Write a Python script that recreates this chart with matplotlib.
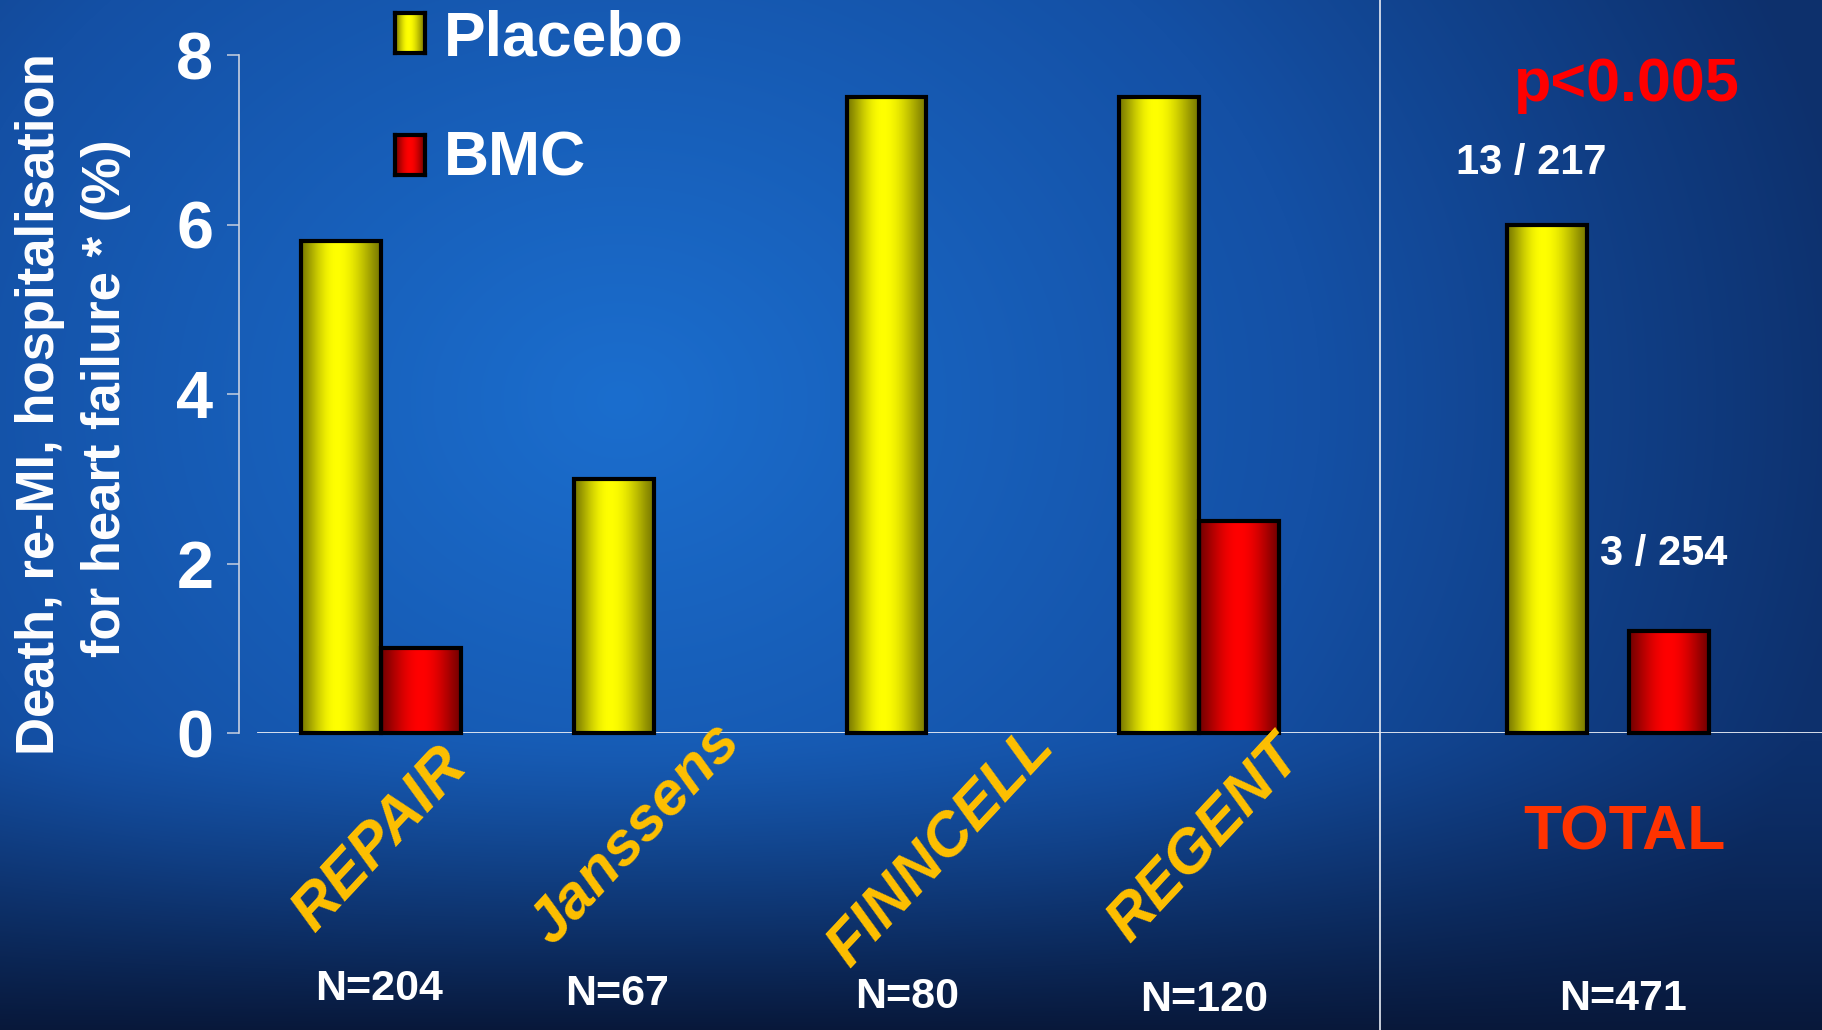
import numpy as np
import matplotlib
matplotlib.use("Agg")
import matplotlib.pyplot as plt
from matplotlib.lines import Line2D

plt.rcParams['font.family'] = ['Liberation Sans', 'DejaVu Sans']

# ---------------- data ----------------
studies = ["REPAIR", "Janssens", "FINNCELL", "REGENT"]
study_n = ["N=204", "N=67", "N=80", "N=120"]
placebo = [5.8, 3.0, 7.5, 7.5]
bmc = [1.0, np.nan, np.nan, 2.5]
total_placebo = 6.0
total_bmc = 1.2
total_labels = ["13 / 217", "3 / 254"]
total_name = "TOTAL"
total_n = "N=471"
p_text = "p<0.005"
series_names = ["Placebo", "BMC"]
yticks = [0, 2, 4, 6, 8]
ylabel_lines = ["Death, re-MI, hospitalisation", "for heart failure * (%)"]

# ---------------- figure ----------------
W, H = 1822, 1030
fig = plt.figure(figsize=(W / 100, H / 100), dpi=100)

def fx(x):
    return x / W

def fy(y):
    return 1 - y / H

# background gradient
bg = fig.add_axes([0, 0, 1, 1], zorder=-10)
yy, xx = np.mgrid[0:H, 0:W].astype(float)
d = np.sqrt((xx - 620) ** 2 + ((yy - 400) * 1.2) ** 2)
dk = [0, 700, 1250]
cols = np.array([[27, 110, 206], [20, 80, 165], [13, 48, 108]], float)
base = np.stack([np.interp(d, dk, cols[:, c]) for c in range(3)], axis=-1)
f = np.clip((yy - 740) / 290, 0, 1) ** 1.3
dark = np.array([8, 24, 58], float)
img = base * (1 - f[..., None]) + dark * f[..., None]
bg.imshow(img.astype(np.uint8), extent=[0, 1, 0, 1], aspect='auto', interpolation='bilinear')
bg.set_axis_off()

# main axes
ax = fig.add_axes([239 / W, (H - 733) / H, (W - 239) / W, (733 - 55) / H])
ax.patch.set_alpha(0)
xl = (-0.521, 5.284)

group_pos = np.arange(len(studies))
bw = 0.293
total_pos = [4.276, 4.723]

def grad(dark_c, bright_c, peak=0.45, n=200):
    t = np.linspace(0, 1, n)
    s = np.where(t < peak, t / peak, (1 - t) / (1 - peak))
    s = np.sin(s * np.pi / 2) ** 1.2
    dc = np.array(dark_c, float)
    bc = np.array(bright_c, float)
    g = dc[None, :] * (1 - s[:, None]) + bc[None, :] * s[:, None]
    return (g[None, :, :] / 255.0)

yellow_g = grad((120, 120, 0), (255, 255, 0), 0.45)
red_g = grad((115, 0, 0), (255, 0, 0), 0.5)

def gradient_bars(x, h, g):
    bars = ax.bar(x, h, width=bw, facecolor='none', edgecolor='black',
                  linewidth=3, zorder=4, clip_on=False)
    for r in bars:
        hh = r.get_height()
        if not np.isfinite(hh):
            continue
        ax.imshow(g, extent=[r.get_x(), r.get_x() + r.get_width(), 0, hh],
                  aspect='auto', interpolation='bilinear', zorder=3)
    return bars

gradient_bars(group_pos - bw / 2, placebo, yellow_g)
mask = ~np.isnan(np.array(bmc, float))
gradient_bars((group_pos + bw / 2)[mask], np.array(bmc)[mask], red_g)
gradient_bars([total_pos[0]], [total_placebo], yellow_g)
gradient_bars([total_pos[1]], [total_bmc], red_g)

ax.set_xlim(*xl)
ax.set_ylim(0, 8)
ax.set_yticks(yticks)
ax.set_yticklabels([str(v) for v in yticks])
ax.set_xticks([])
for s in ['top', 'right', 'bottom']:
    ax.spines[s].set_visible(False)
ax.spines['left'].set_color('#c8d0e0')
ax.spines['left'].set_linewidth(1.2)
ax.tick_params(axis='y', colors='#c8d0e0', length=8.5, width=1.1, pad=10,
               labelsize=48, labelcolor='white')
for lab in ax.get_yticklabels():
    lab.set_fontweight('bold')
ax.axhline(0, xmin=(258 - 239) / (W - 239), xmax=1, color='#e8ecf4', lw=1.3, zorder=2)

# separator line
fig.add_artist(Line2D([fx(1380), fx(1380)], [0, 1], color='#e8ecf4', lw=1.2))

# y label
fig.text(fx(40), fy(404), ylabel_lines[0], rotation=90, ha='center', va='center',
         color='white', fontsize=38, fontweight='bold')
fig.text(fx(106), fy(398), ylabel_lines[1], rotation=90, ha='center', va='center',
         color='white', fontsize=38, fontweight='bold')

# legend
for (y0, y1), g, name, ty in [((13, 53), yellow_g, series_names[0], 39),
                              ((135, 175), red_g, series_names[1], 159)]:
    lax = fig.add_axes([fx(395), fy(y1), (425 - 395) / W, (y1 - y0) / H])
    lax.imshow(g, aspect='auto', extent=[0, 1, 0, 1])
    lax.set_xticks([]); lax.set_yticks([])
    for sp in lax.spines.values():
        sp.set_color('black'); sp.set_linewidth(3)
    fig.text(fx(444), fy(ty), name, ha='left', va='center', color='white',
             fontsize=45, fontweight='bold')

# category labels
cat_centers = [(381, 840), (636, 834), (942, 848), (1206, 840)]
for name, (cx, cy) in zip(studies, cat_centers):
    fig.text(fx(cx), fy(cy), name, rotation=47, rotation_mode='anchor',
             ha='center', va='center', color='#FFC000', fontsize=44,
             fontweight='bold', fontstyle='italic')

# N labels
n_centers = [(379, 989), (617, 994), (907, 997), (1204, 1000)]
for name, (cx, cy) in zip(study_n, n_centers):
    fig.text(fx(cx), fy(cy), name, ha='center', va='center', color='white',
             fontsize=31, fontweight='bold')
fig.text(fx(1623), fy(999), total_n, ha='center', va='center', color='white',
         fontsize=31, fontweight='bold')

# total annotations
fig.text(fx(1624), fy(833), total_name, ha='center', va='center', color='#FF3300',
         fontsize=45, fontweight='bold')
fig.text(fx(1627), fy(85), p_text, ha='center', va='center', color='#FF0000',
         fontsize=44, fontweight='bold')
fig.text(fx(1531), fy(163), total_labels[0], ha='center', va='center', color='white',
         fontsize=30, fontweight='bold')
fig.text(fx(1664), fy(554), total_labels[1], ha='center', va='center', color='white',
         fontsize=30, fontweight='bold')

fig.savefig("out.png", dpi=100)
